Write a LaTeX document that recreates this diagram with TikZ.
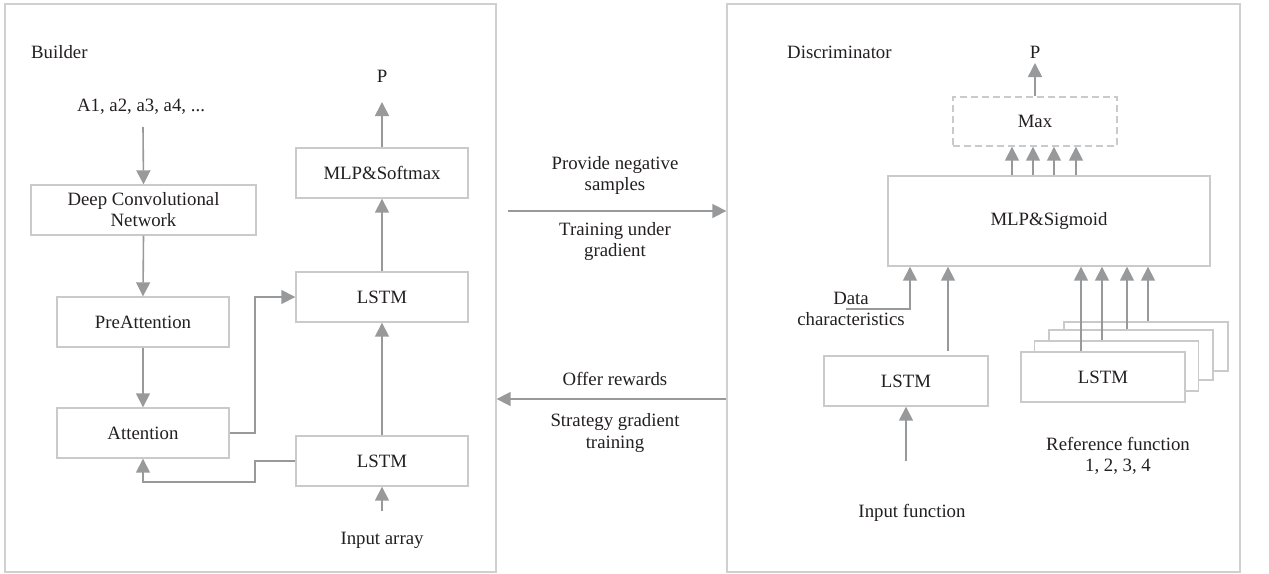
\documentclass[tikz,border=0pt]{standalone}
\usepackage{fontspec}
\setmainfont{Liberation Serif}
\usetikzlibrary{arrows.meta}
\definecolor{panelgray}{HTML}{D0D0D0}
\definecolor{boxgray}{HTML}{CACACA}
\definecolor{arrgray}{HTML}{98999B}
\definecolor{txt}{HTML}{231F20}
\begin{document}
\begin{tikzpicture}[x=1pt,y=-1pt,
  every node/.style={text=txt,font=\fontsize{18.8}{21}\selectfont},
  panel/.style={draw=panelgray,line width=1.3pt,minimum width=#1,inner sep=0pt},
  box/.style={draw=boxgray,line width=1.4pt,fill=white,inner sep=0pt,align=center},
  lbl/.style={align=center,inner sep=0pt},
  arr/.style={draw=arrgray,line width=1.6pt,-{Triangle[width=14pt,length=14pt]}},
  ln/.style={draw=arrgray,line width=1.6pt}]
\useasboundingbox (0,0) rectangle (1269,573);
% panels
\node[panel=491pt,minimum height=568pt] (lpanel) at (250.5,288) {};
\node[panel=513pt,minimum height=568pt] (rpanel) at (983.5,288) {};
% ---------- Builder ----------
\node[lbl,anchor=west] (builder) at (31,52) {Builder};
\node[lbl] (pL) at (382,76) {P};
\node[lbl] (aseq) at (141,107) {A1, a2, a3, a4, ...};
\node[box,minimum width=225pt,minimum height=50pt] (dcn) at (143.5,210) {Deep Convolutional\\Network};
\node[box,minimum width=172pt,minimum height=50pt] (pre) at (143,322) {PreAttention};
\node[box,minimum width=172pt,minimum height=50pt] (att) at (143,433) {Attention};
\node[box,minimum width=172pt,minimum height=50pt] (mlp) at (382,173) {MLP\&Softmax};
\node[box,minimum width=172pt,minimum height=50pt] (lstmA) at (382,297) {LSTM};
\node[box,minimum width=172pt,minimum height=50pt] (lstmB) at (382,461) {LSTM};
\node[lbl] (inarr) at (382,540) {Input array};
\coordinate (aseqend) at (143,127);
\coordinate (pLend) at (382,102);
\coordinate (inarrend) at (382,511);
\draw[arr] (aseqend) -- (dcn.north);
\draw[arr] (dcn.south) -- (pre.north);
\draw[arr] (pre.south) -- (att.north);
\draw[arr] (mlp.north) -- (pLend);
\draw[arr] (lstmA.north) -- (mlp.south);
\draw[arr] (lstmB.north) -- (lstmA.south);
\draw[arr] (inarrend) -- (lstmB.south);
\draw[arr] (att.east) -- (att.east -| 255,0) -- (lstmA.west -| 255,0) -- (lstmA.west);
\draw[arr] (lstmB.west) -- (lstmB.west -| 255,0) -- (255,482) -- (att.south |- 0,482) -- (att.south);
% ---------- middle ----------
\node[lbl] (t1) at (615,175.5) {Provide negative\\samples};
\node[lbl] (t2) at (615,242) {Training under\\gradient};
\node[lbl] (t3) at (615,379) {Offer rewards};
\node[lbl] (t4) at (615,433) {Strategy gradient\\training};
\coordinate (m1s) at (508,211);
\draw[arr] (m1s) -- (rpanel.west |- m1s);
\draw[arr] (rpanel.west |- 0,399) -- (lpanel.east |- 0,399);
% ---------- Discriminator ----------
\node[lbl,anchor=west] (disc) at (787,52) {Discriminator};
\node[lbl] (pR) at (1035,52) {P};
\node[box,dashed,dash pattern=on 7pt off 4pt,minimum width=164pt,minimum height=49pt] (rmax) at (1035,121.5) {Max};
\node[box,minimum width=322pt,minimum height=90pt] (rmlp) at (1049,221) {MLP\&Sigmoid};
\coordinate (pRend) at (1035,63);
\draw[arr] (rmax.north) -- (pRend);
\foreach \xx in {1012,1033,1054,1076}
  \draw[arr] (rmlp.north -| \xx,0) -- (rmax.south -| \xx,0);
\node[box,minimum width=164pt,minimum height=50pt] (rlstm) at (906,381) {LSTM};
\node[box,minimum width=164pt,minimum height=49pt] (s4) at (1146,346.5) {};
\node[box,minimum width=164pt,minimum height=50pt] (s3) at (1131,355) {};
\node[box,minimum width=164pt,minimum height=50pt] (s2) at (1116.5,366) {};
\node[box,minimum width=164pt,minimum height=50pt] (s1) at (1103,377) {LSTM};
\draw[arr] (s1.north -| 1081,0) -- (rmlp.south -| 1081,0);
\draw[arr] (s2.north -| 1102,0) -- (rmlp.south -| 1102,0);
\draw[arr] (s3.north -| 1127,0) -- (rmlp.south -| 1127,0);
\draw[arr] (s4.north -| 1148,0) -- (rmlp.south -| 1148,0);
\node[lbl] (dchar) at (851,309) {Data\\characteristics};
\coordinate (dcs) at (846,309);
\draw[arr] (dcs) -- (dcs -| 910,0) -- (rmlp.south -| 910,0);
\coordinate (lin) at (948,351);
\draw[arr] (lin) -- (rmlp.south -| lin);
\coordinate (infs) at (906,461);
\draw[arr] (infs) -- (rlstm.south);
\node[lbl] (infunc) at (912,513) {Input function};
\node[lbl] (reff) at (1118,455.5) {Reference function\\1, 2, 3, 4};
\end{tikzpicture}
\end{document}
